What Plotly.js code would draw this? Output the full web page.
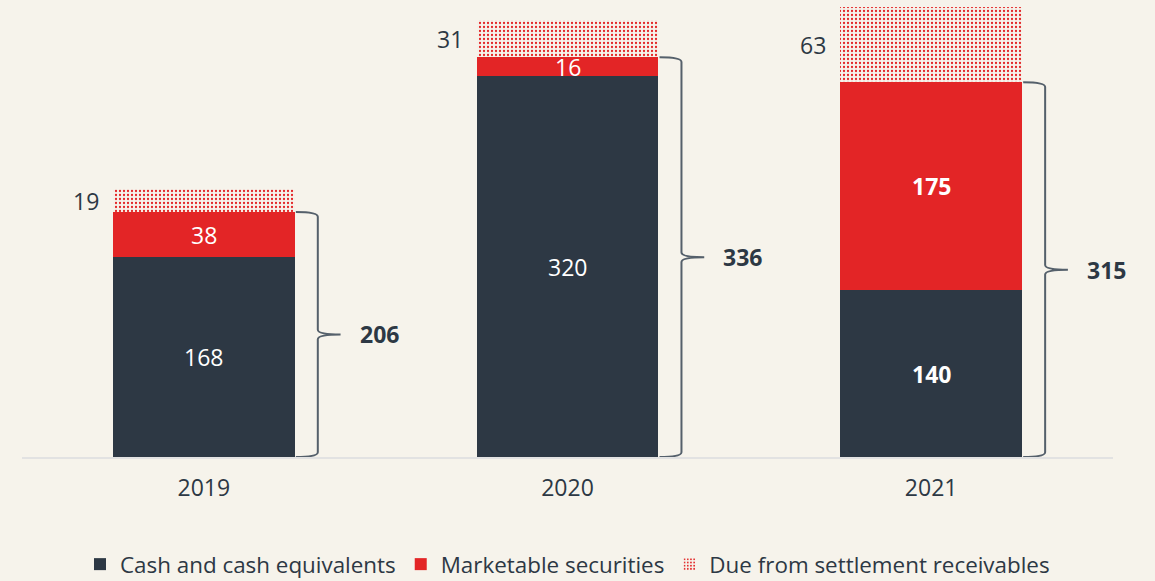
<!DOCTYPE html>
<html>
<head>
<meta charset="utf-8">
<script src="https://cdn.plot.ly/plotly-3.0.1.min.js"></script>
<style>
  html, body { margin: 0; padding: 0; background: #f6f3eb; }
  #chart { width: 1155px; height: 581px; }
</style>
</head>
<body>
<div id="chart"></div>
<script>
// ---- data ----
const categories = ["2019", "2020", "2021"];
const cashValues = [168, 320, 140];
const marketableValues = [38, 16, 175];
const dueValues = [19, 31, 63];
const boldLabels = [false, false, true];
const seriesNames = ["Cash and cash equivalents", "Marketable securities", "Due from settlement receivables"];

// ---- styles ----
const DARK = "#2d3844";
const RED = "#e32526";
const BG = "#f6f3eb";
const FONT = "Open Sans, Noto Sans, sans-serif";
const FS = 23;

const xs = categories.map((_, i) => i);

const traces = [
  {
    type: "bar", name: seriesNames[0], x: xs, y: cashValues,
    marker: { color: DARK, line: { width: 0 } },
    width: 0.5, hoverinfo: "skip", textposition: "none"
  },
  {
    type: "bar", name: seriesNames[1], x: xs, y: marketableValues,
    marker: { color: RED, line: { width: 0 } },
    width: 0.5, hoverinfo: "skip", textposition: "none"
  },
  {
    type: "bar", name: seriesNames[2], x: xs, y: dueValues,
    marker: {
      color: RED, line: { width: 0 },
      pattern: { shape: ".", fillmode: "replace", fgcolor: RED, bgcolor: BG, size: 4, solidity: 0.25 }
    },
    width: 0.5, hoverinfo: "skip", textposition: "none"
  }
];

const annotations = [];
const shapes = [];
const wrap = (v, b) => b ? "<b>" + v + "</b>" : String(v);

categories.forEach((c, i) => {
  const cash = cashValues[i], mkt = marketableValues[i], due = dueValues[i];
  const total = cash + mkt;
  // inside labels
  annotations.push({
    x: i, y: cash / 2, xref: "x", yref: "y", text: wrap(cash, boldLabels[i]),
    showarrow: false, font: { family: FONT, size: FS, color: "#ffffff" }
  });
  annotations.push({
    x: i, y: cash + mkt / 2, xref: "x", yref: "y", text: wrap(mkt, boldLabels[i]),
    showarrow: false, font: { family: FONT, size: FS, color: "#ffffff" }
  });
  // due label left of bar
  annotations.push({
    x: i - 0.25, y: total + due / 2, xref: "x", yref: "y", text: String(due),
    xanchor: "right", xshift: -12, showarrow: false,
    font: { family: FONT, size: FS, color: DARK }
  });
  // total label
  annotations.push({
    x: i + 0.25, y: total / 2, xref: "x", yref: "y", text: "<b>" + total + "</b>",
    xanchor: "left", xshift: 63, showarrow: false,
    font: { family: FONT, size: FS, color: DARK }
  });
  // brace
  const x0 = i + 0.25 + 0.003, xv = i + 0.25 + 0.0634, xt = i + 0.25 + 0.126;
  const m = total / 2, d = 4;
  const path = `M ${x0},${total} Q ${xv},${total} ${xv},${total - d} L ${xv},${m + d} ` +
               `Q ${xv},${m} ${xt},${m} Q ${xv},${m} ${xv},${m - d} L ${xv},${d} Q ${xv},0 ${x0},0`;
  shapes.push({
    type: "path", xref: "x", yref: "y", path: path,
    line: { color: "#55606b", width: 2 }
  });
});

const layout = {
  width: 1155, height: 581,
  paper_bgcolor: BG, plot_bgcolor: BG,
  margin: { l: 22, r: 42, t: 5, b: 124, autoexpand: false },
  barmode: "stack",
  showlegend: true,
  font: { family: FONT, size: FS, color: DARK },
  xaxis: {
    type: "linear", range: [-0.5, 2.5],
    tickvals: xs, ticktext: categories,
    showgrid: false, zeroline: false,
    showline: true, linecolor: "#e2e2e2", linewidth: 2,
    ticks: "", ticklabelstandoff: 9, automargin: false,
    tickfont: { family: FONT, size: FS, color: DARK },
    fixedrange: true
  },
  yaxis: {
    range: [0, 380], visible: false, showgrid: false, zeroline: false, fixedrange: true, automargin: false
  },
  legend: {
    orientation: "h", x: 0.5, xanchor: "center", y: -0.238, yanchor: "middle",
    traceorder: "normal", itemwidth: 30,
    font: { family: FONT, size: 22.4, color: DARK },
    bgcolor: "rgba(0,0,0,0)"
  },
  annotations: annotations,
  shapes: shapes
};

Plotly.newPlot("chart", traces, layout, { staticPlot: true, displayModeBar: false });
</script>
</body>
</html>
